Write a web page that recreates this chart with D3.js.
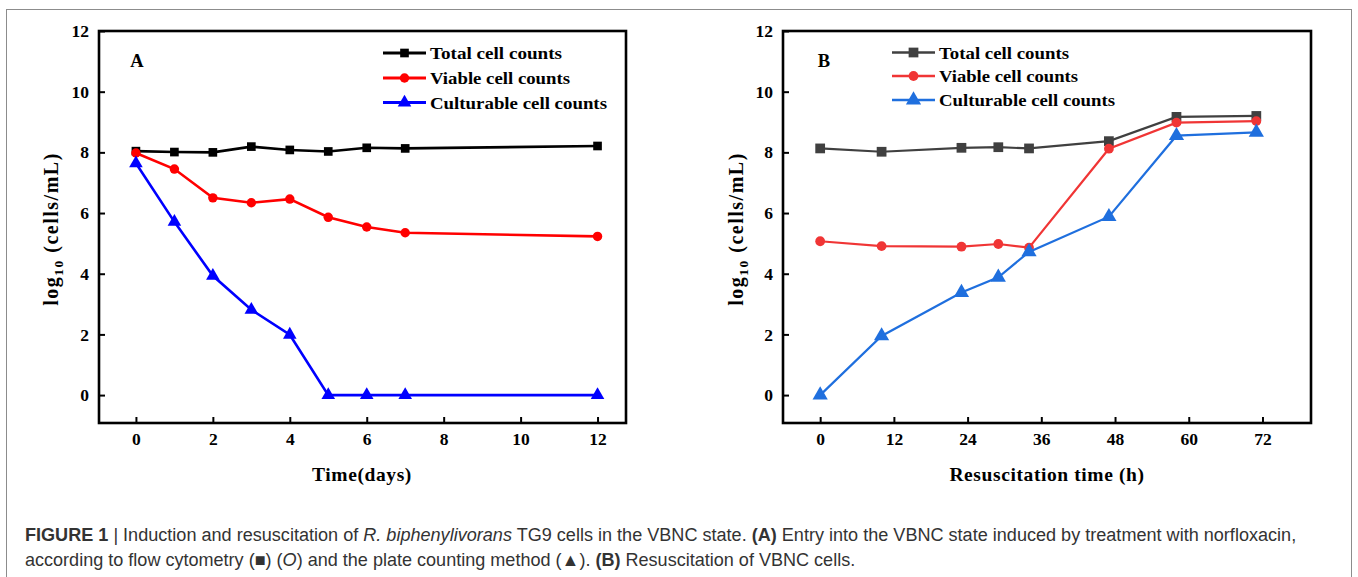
<!DOCTYPE html>
<html>
<head>
<meta charset="utf-8">
<script src="https://cdn.jsdelivr.net/npm/d3@7"></script>
<style>
  html, body { margin: 0; padding: 0; background: #fff; }
  svg { display: block; }
</style>
</head>
<body>
<svg id="chart" width="1358" height="577"></svg>
<script>
// ---------- data ----------
const seriesNames = ["Total cell counts", "Viable cell counts", "Culturable cell counts"];

const daysA   = [0, 1, 2, 3, 4, 5, 6, 7, 12];
const totalA  = [8.04, 8.01, 8.00, 8.19, 8.08, 8.03, 8.15, 8.13, 8.21];
const viableA = [7.98, 7.45, 6.50, 6.34, 6.46, 5.86, 5.54, 5.35, 5.23];
const cultA   = [7.64, 5.71, 3.93, 2.81, 1.99, 0, 0, 0, 0];

const hoursB  = [0, 10, 23, 29, 34, 47, 58, 71];
const totalB  = [8.13, 8.02, 8.15, 8.17, 8.13, 8.37, 9.17, 9.20];
const viableB = [5.07, 4.91, 4.89, 4.98, 4.86, 8.12, 8.98, 9.03];
const cultB   = [0, 1.95, 3.38, 3.88, 4.72, 5.88, 8.55, 8.66];

const yTicks  = [0, 2, 4, 6, 8, 10, 12];
const xTicksA = [0, 2, 4, 6, 8, 10, 12];
const xTicksB = [0, 12, 24, 36, 48, 60, 72];

// ---------- drawing ----------
const svg = d3.select("#chart");
const serif = "'Liberation Serif', 'Times New Roman', serif";

// outer frame
svg.append("rect")
  .attr("x", 6.5).attr("y", 9.5).attr("width", 1345).attr("height", 600)
  .attr("fill", "none").attr("stroke", "#8c8c8c").attr("stroke-width", 1);

function drawPanel(cfg) {
  const g = svg.append("g");
  const x = d3.scaleLinear().domain(cfg.xDomain).range([cfg.left, cfg.right]);
  const y = d3.scaleLinear().domain([-0.92, 12]).range([423, 31]);

  // axes
  const xAxis = d3.axisBottom(x).tickValues(cfg.xTicks).tickSizeInner(-6).tickSizeOuter(0).tickPadding(10);
  const yAxis = d3.axisLeft(y).tickValues(yTicks).tickSizeInner(-6).tickSizeOuter(0).tickPadding(10);
  const gx = g.append("g").attr("transform", `translate(0,${y.range()[0]})`).call(xAxis);
  const gy = g.append("g").attr("transform", `translate(${cfg.left},0)`).call(yAxis);
  [gx, gy].forEach(a => {
    a.select(".domain").remove();
    a.selectAll(".tick line").attr("stroke", "#000").attr("stroke-width", 2);
    a.selectAll(".tick text").attr("fill", "#000")
      .style("font-family", serif).style("font-size", "17.5px").style("font-weight", "bold");
  });

  // frame
  g.append("rect")
    .attr("x", cfg.left).attr("y", y.range()[1])
    .attr("width", cfg.right - cfg.left).attr("height", y.range()[0] - y.range()[1])
    .attr("fill", "none").attr("stroke", "#000").attr("stroke-width", 2.6);

  // series
  const symbols = [d3.symbolSquare, d3.symbolCircle, d3.symbolTriangle];
  cfg.series.forEach((vals, i) => {
    const pts = cfg.xs.map((xv, j) => [xv, vals[j]]);
    g.append("path")
      .attr("d", d3.line().x(d => x(d[0])).y(d => y(d[1]))(pts))
      .attr("fill", "none").attr("stroke", cfg.colors[i]).attr("stroke-width", cfg.lineWidth);
    g.selectAll(null).data(pts).enter().append("path")
      .attr("transform", d => `translate(${x(d[0])},${y(d[1])})`)
      .attr("d", d3.symbol().type(symbols[i]).size(cfg.markerSizes[i]))
      .attr("fill", cfg.colors[i]);
  });

  // panel label
  g.append("text").attr("x", cfg.panelLabelX).attr("y", 67)
    .attr("text-anchor", "middle")
    .style("font-family", serif).style("font-size", "18.5px").style("font-weight", "bold")
    .text(cfg.panelLabel);

  // legend
  seriesNames.forEach((name, i) => {
    const ly = cfg.legendY[i];
    g.append("line").attr("x1", cfg.legendX).attr("x2", cfg.legendX + 43)
      .attr("y1", ly).attr("y2", ly)
      .attr("stroke", cfg.colors[i]).attr("stroke-width", cfg.lineWidth + 0.5);
    g.append("path")
      .attr("transform", `translate(${cfg.legendX + 21.5},${ly})`)
      .attr("d", d3.symbol().type(symbols[i]).size(cfg.markerSizes[i]))
      .attr("fill", cfg.colors[i]);
    g.append("text").attr("x", cfg.legendX + 47).attr("y", ly + 6)
      .attr("textLength", cfg.legendWidths[i]).attr("lengthAdjust", "spacingAndGlyphs")
      .style("font-family", serif).style("font-size", "17.5px").style("font-weight", "bold")
      .attr("fill", "#000")
      .text(name);
  });

  // x title
  g.append("text").attr("x", cfg.xTitleX).attr("y", 481)
    .attr("text-anchor", "middle")
    .style("font-family", serif).style("font-size", "19.5px").style("font-weight", "bold")
    .style("letter-spacing", "0.6px")
    .text(cfg.xTitle);

  // y title
  const yt = g.append("text")
    .attr("transform", `translate(${cfg.yTitleX},229) rotate(-90)`)
    .attr("text-anchor", "middle")
    .style("font-family", serif).style("font-size", "20px").style("font-weight", "bold")
    .style("letter-spacing", "1.5px");
  yt.append("tspan").text("log");
  yt.append("tspan").attr("dy", 5).style("font-size", "13.5px").text("10");
  yt.append("tspan").attr("dy", -5).text(" (cells/mL)");
}

drawPanel({
  left: 99, right: 626, xDomain: [-0.96, 12.74],
  xTicks: xTicksA, xs: daysA, series: [totalA, viableA, cultA],
  colors: ["#000000", "#ff0000", "#0000ff"],
  lineWidth: 2.6, markerSizes: [75, 70, 80],
  panelLabel: "A", panelLabelX: 137,
  legendX: 383, legendY: [53, 78, 102.5], legendWidths: [132, 140, 177],
  xTitle: "Time(days)", xTitleX: 362, yTitleX: 58
});

drawPanel({
  left: 783, right: 1311, xDomain: [-6.05, 79.9],
  xTicks: xTicksB, xs: hoursB, series: [totalB, viableB, cultB],
  colors: ["#404040", "#f03535", "#1f6fde"],
  lineWidth: 2.2, markerSizes: [95, 75, 100],
  panelLabel: "B", panelLabelX: 824,
  legendX: 892, legendY: [52.5, 76, 100], legendWidths: [130, 139, 176],
  xTitle: "Resuscitation time (h)", xTitleX: 1047, yTitleX: 743
});

// ---------- caption ----------
const capFont = "'Liberation Sans Narrow', 'Liberation Sans', Arial, sans-serif";
const capColor = "#333333";
function captionLine(yPos, parts, targetWidth) {
  const t = svg.append("text").attr("x", 25).attr("y", yPos)
    .style("font-family", capFont).style("font-size", "18px").attr("fill", capColor);
  parts.forEach(p => {
    const s = t.append("tspan").text(p.t);
    if (p.b) s.style("font-weight", "bold");
    if (p.i) s.style("font-style", "italic");
  });
  const w = t.node().getComputedTextLength();
  const k = targetWidth / w;
  t.attr("transform", `translate(${25 * (1 - k)},0) scale(${k},1)`);
}
captionLine(541, [
  {t: "FIGURE 1", b: true}, {t: " | Induction and resuscitation of "},
  {t: "R. biphenylivorans", i: true}, {t: " TG9 cells in the VBNC state. "},
  {t: "(A)", b: true}, {t: " Entry into the VBNC state induced by treatment with norfloxacin,"}
], 1272);
captionLine(566, [
  {t: "according to flow cytometry (\u25A0) ("}, {t: "O", i: true},
  {t: ") and the plate counting method (\u25B2). "}, {t: "(B)", b: true},
  {t: " Resuscitation of VBNC cells."}
], 831);
</script>
</body>
</html>
